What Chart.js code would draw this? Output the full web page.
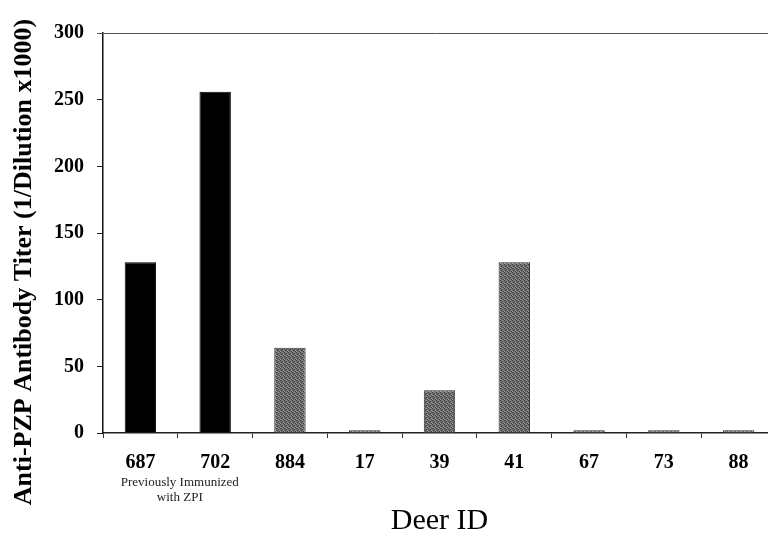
<!DOCTYPE html>
<html>
<head>
<meta charset="utf-8">
<script src="https://cdn.jsdelivr.net/npm/chart.js@4"></script>
<style>
  html, body { margin: 0; padding: 0; background: #fff; overflow: hidden; }
  #wrap { width: 776px; height: 534px; }
</style>
</head>
<body>
<div id="wrap"><canvas id="c" width="776" height="534"></canvas></div>
<script>
const categories = ['687', '702', '884', '17', '39', '41', '67', '73', '88'];
const titerValues = [128, 256, 64, 2, 32, 128, 2, 2, 2];
const yTicks = [0, 50, 100, 150, 200, 250, 300];
const previouslyImmunized = ['687', '702'];
const noteLines = ['Previously Immunized', 'with ZPI'];
const xTitle = 'Deer ID';
const yTitle = 'Anti-PZP Antibody Titer (1/Dilution x1000)';

// stippled gray fill
function makePattern() {
  const p = document.createElement('canvas');
  p.width = 4; p.height = 4;
  const g = p.getContext('2d');
  g.fillStyle = '#6e6e6e'; g.fillRect(0, 0, 4, 4);
  g.fillStyle = '#3a3a3a';
  g.fillRect(0, 0, 1, 1); g.fillRect(2, 1, 1, 1); g.fillRect(1, 2, 1, 1); g.fillRect(3, 3, 1, 1);
  g.fillStyle = '#a0a0a0';
  g.fillRect(2, 0, 1, 1); g.fillRect(0, 3, 1, 1); g.fillRect(3, 2, 1, 1);
  return g.createPattern(p, 'repeat');
}
const ctx = document.getElementById('c').getContext('2d');
const grayFill = makePattern();
const fills = categories.map(c => previouslyImmunized.includes(c) ? '#000000' : grayFill);
const borders = categories.map(c => previouslyImmunized.includes(c) ? '#000000' : '#333333');

const serif = "'Liberation Serif', 'Times New Roman', serif";

const extras = {
  id: 'extras',
  afterDraw(chart) {
    const c = chart.ctx;
    const area = chart.chartArea;
    const x = chart.scales.x;
    // top frame line
    c.save();
    c.strokeStyle = '#555';
    c.lineWidth = 1;
    c.beginPath();
    c.moveTo(area.left - 6, area.top + 0.5);
    c.lineTo(area.right, area.top + 0.5);
    c.stroke();
    // note under first two categories
    const mid = (x.getPixelForValue(0) + x.getPixelForValue(1)) / 2 + 2;
    c.fillStyle = '#222';
    c.font = "13px " + serif;
    c.textAlign = 'center';
    c.textBaseline = 'middle';
    c.fillText(noteLines[0], mid, 483);
    c.fillText(noteLines[1], mid, 498);
    // y title
    c.translate(24, 262);
    c.rotate(-Math.PI / 2);
    c.font = "bold 26px " + serif;
    c.fillStyle = '#000';
    c.fillText(yTitle, 0, 0);
    c.restore();
  }
};

new Chart(ctx, {
  type: 'bar',
  data: {
    labels: categories,
    datasets: [{
      data: titerValues,
      backgroundColor: fills,
      borderColor: borders,
      borderWidth: 1,
      categoryPercentage: 1,
      barPercentage: 0.42
    }]
  },
  options: {
    responsive: false,
    animation: false,
    layout: { padding: { top: 33, left: 0, right: 0, bottom: 0 } },
    plugins: { legend: { display: false }, tooltip: { enabled: false } },
    scales: {
      x: {
        grid: { display: true, drawOnChartArea: false, drawTicks: true, tickLength: 5, color: '#333', offset: true },
        border: { display: true, color: '#222', width: 1.5 },
        ticks: { color: '#000', font: { family: serif, size: 20, weight: 'bold' }, padding: 13, maxRotation: 0 },
        title: { display: true, text: xTitle, color: '#000', font: { family: serif, size: 30, lineHeight: 0.85 }, padding: { top: 0, bottom: 0 } },
        afterFit(s) { s.height = 101; }
      },
      y: {
        min: 0, max: 300,
        afterBuildTicks(s) { s.ticks = yTicks.map(v => ({ value: v })); },
        grid: { display: true, drawOnChartArea: false, drawTicks: true, tickLength: 6, color: '#222' },
        border: { display: true, color: '#111', width: 1.5 },
        ticks: { color: '#000', font: { family: serif, size: 20, weight: 'bold' }, padding: 13 },
        afterFit(s) { s.width = 103; }
      }
    }
  },
  plugins: [extras]
});
</script>
</body>
</html>
